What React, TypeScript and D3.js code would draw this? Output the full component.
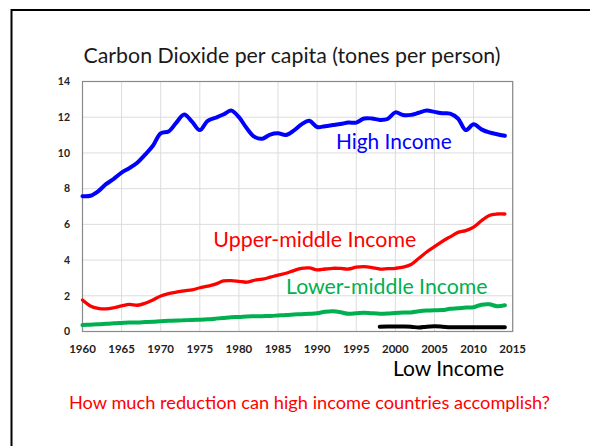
import React from "react";
import * as d3 from "d3";

const years = d3.range(1960, 2015);
const highIncome = [7.58, 7.6, 7.85, 8.25, 8.55, 8.9, 9.15, 9.45, 9.9, 10.4, 11.1, 11.2, 11.7, 12.15, 11.75, 11.28, 11.8, 11.97, 12.15, 12.37, 12.0, 11.38, 10.9, 10.8, 11.03, 11.1, 11.0, 11.25, 11.6, 11.8, 11.45, 11.5, 11.56, 11.62, 11.7, 11.7, 11.93, 11.93, 11.85, 11.9, 12.27, 12.12, 12.13, 12.25, 12.37, 12.3, 12.22, 12.2, 11.93, 11.28, 11.6, 11.32, 11.15, 11.05, 10.96];
const upperMiddle = [1.76, 1.43, 1.3, 1.27, 1.33, 1.43, 1.52, 1.47, 1.58, 1.77, 1.99, 2.12, 2.2, 2.28, 2.33, 2.45, 2.54, 2.65, 2.83, 2.85, 2.81, 2.76, 2.87, 2.93, 3.04, 3.16, 3.26, 3.41, 3.54, 3.56, 3.45, 3.5, 3.54, 3.53, 3.5, 3.6, 3.63, 3.58, 3.5, 3.52, 3.54, 3.6, 3.75, 4.1, 4.45, 4.75, 5.05, 5.3, 5.55, 5.65, 5.85, 6.2, 6.5, 6.58, 6.58];
const lowerMiddle = [0.36, 0.38, 0.4, 0.43, 0.46, 0.48, 0.5, 0.51, 0.53, 0.55, 0.58, 0.6, 0.61, 0.63, 0.65, 0.66, 0.68, 0.72, 0.76, 0.8, 0.81, 0.84, 0.85, 0.86, 0.87, 0.9, 0.93, 0.95, 0.97, 0.99, 1.02, 1.1, 1.13, 1.08, 0.99, 1.02, 1.05, 1.02, 1.0, 1.01, 1.04, 1.06, 1.07, 1.13, 1.17, 1.19, 1.2, 1.27, 1.3, 1.34, 1.36, 1.5, 1.52, 1.42, 1.47];
const lowYears = d3.range(1998, 2015);
const lowIncome = [0.27, 0.28, 0.28, 0.28, 0.27, 0.22, 0.27, 0.29, 0.27, 0.24, 0.24, 0.24, 0.24, 0.24, 0.24, 0.24, 0.24];

const xTicks = d3.range(1960, 2016, 5);
const yTicks = d3.range(0, 15, 2);

const FONT = "Lato, 'Open Sans', sans-serif";

export default function App() {
  const x = d3.scaleLinear().domain([1960, 2015]).range([82.5, 512.7]);
  const y = d3.scaleLinear().domain([0, 14]).range([331.5, 81.5]);
  const line = d3
    .line<[number, number]>()
    .x((d) => x(d[0]))
    .y((d) => y(d[1]))
    .curve(d3.curveCatmullRom.alpha(0.5));

  const series = [
    { vals: upperMiddle, yrs: years, color: "#ff0000", w: 3.3 },
    { vals: lowerMiddle, yrs: years, color: "#00b050", w: 4 },
    { vals: highIncome, yrs: years, color: "#0000ff", w: 4 },
    { vals: lowIncome, yrs: lowYears, color: "#000000", w: 4 },
  ];

  const [x0, x1] = x.range();
  const [y0, y1] = y.range();

  return (
    <svg
      width={590}
      height={446}
      style={{ position: "absolute", left: 0, top: 0, background: "#fff" }}
    >
      <rect x={0} y={0} width={590} height={446} fill="#fff" />
      <path d="M11.5,460 L11.5,10 L600,10" fill="none" stroke="#000" strokeWidth={2} />
      {xTicks.map((t) => (
        <line key={"gx" + t} x1={x(t)} x2={x(t)} y1={y1} y2={y0} stroke="#dcdcdc" strokeWidth={1} />
      ))}
      {yTicks.map((t) => (
        <line key={"gy" + t} x1={x0} x2={x1} y1={y(t)} y2={y(t)} stroke="#dcdcdc" strokeWidth={1} />
      ))}
      <rect x={x0} y={y1} width={x1 - x0} height={y0 - y1} fill="none" stroke="#8a8a8a" strokeWidth={1.2} />
      {series.map((s, i) => (
        <path
          key={i}
          d={line(s.vals.map((v, j) => [s.yrs[j], v] as [number, number])) || ""}
          fill="none"
          stroke={s.color}
          strokeWidth={s.w}
          strokeLinejoin="round"
          strokeLinecap="round"
        />
      ))}
      {yTicks.map((t) => (
        <text key={"ty" + t} x={70} y={y(t)} dy="0.36em" textAnchor="end" fontFamily={FONT} fontWeight="bold" fontSize={10.5} fill="#222">
          {t}
        </text>
      ))}
      {xTicks.map((t) => (
        <text key={"tx" + t} x={x(t)} y={353} textAnchor="middle" fontFamily={FONT} fontWeight="bold" fontSize={11.5} fill="#222">
          {t}
        </text>
      ))}
      <text x={83.5} y={62.5} fontFamily={FONT} fontSize={20.5} fill="#1a1a1a" textLength={417} lengthAdjust="spacingAndGlyphs">
        Carbon Dioxide per capita (tones per person)
      </text>
      <text x={336} y={149} fontFamily={FONT} fontSize={21} fill="#0000ff" textLength={115.7} lengthAdjust="spacingAndGlyphs">
        High Income
      </text>
      <text x={213.3} y={246.7} fontFamily={FONT} fontSize={21} fill="#ff0000" textLength={203} lengthAdjust="spacingAndGlyphs">
        Upper-middle Income
      </text>
      <text x={286} y={293.5} fontFamily={FONT} fontSize={21} fill="#00b050" textLength={201.5} lengthAdjust="spacingAndGlyphs">
        Lower-middle Income
      </text>
      <text x={393} y={375.5} fontFamily={FONT} fontSize={21} fill="#000" textLength={111} lengthAdjust="spacingAndGlyphs">
        Low Income
      </text>
      <text x={69} y={409.3} fontFamily={FONT} fontSize={17.7} fill="#ff0000" textLength={481} lengthAdjust="spacingAndGlyphs">
        How much reduction can high income countries accomplish?
      </text>
    </svg>
  );
}
